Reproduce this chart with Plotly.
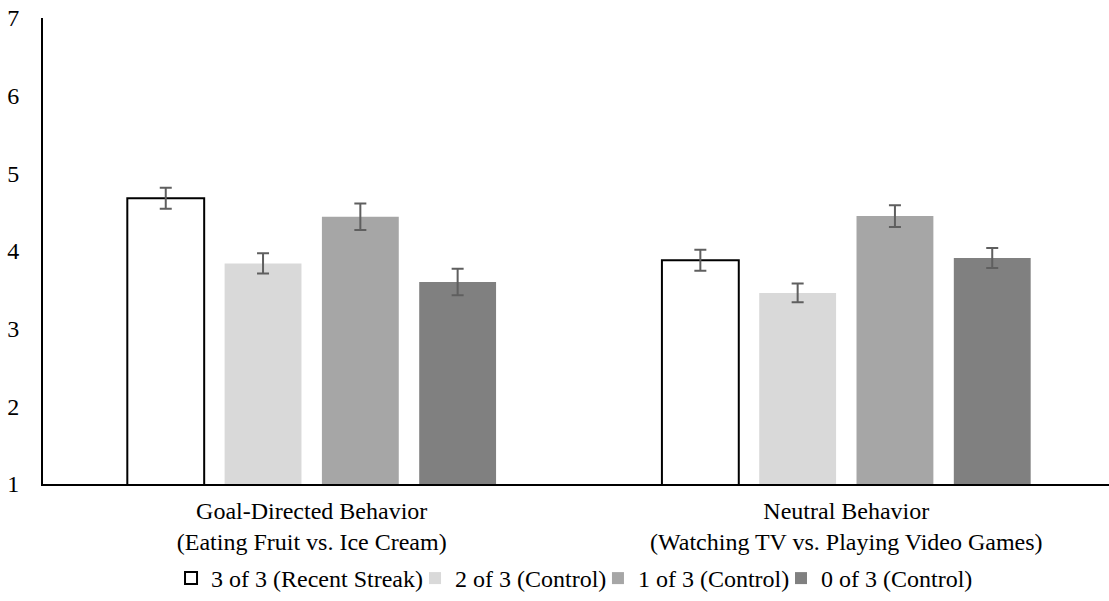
import plotly.graph_objects as go

categories = [
    "Goal-Directed Behavior<br>(Eating Fruit vs. Ice Cream)",
    "Neutral Behavior<br>(Watching TV vs. Playing Video Games)",
]
series_names = [
    "3 of 3 (Recent Streak)",
    "2 of 3 (Control)",
    "1 of 3 (Control)",
    "0 of 3 (Control)",
]
values_3of3 = [4.68, 3.88]
values_2of3 = [3.84, 3.46]
values_1of3 = [4.44, 4.45]
values_0of3 = [3.60, 3.91]
errors_3of3 = [0.135, 0.135]
errors_2of3 = [0.13, 0.12]
errors_1of3 = [0.17, 0.14]
errors_0of3 = [0.17, 0.13]
y_ticks = [1, 2, 3, 4, 5, 6, 7]

fills = ["#FFFFFF", "#D9D9D9", "#A6A6A6", "#808080"]
outlines = ["#000000", "#D9D9D9", "#A6A6A6", "#808080"]
outline_w = [2, 0, 0, 0]
legend_ids = ["legend", "legend2", "legend3", "legend4"]
legend_x = [0.1201, 0.3490, 0.5206, 0.6923]

all_vals = [values_3of3, values_2of3, values_1of3, values_0of3]
all_errs = [errors_3of3, errors_2of3, errors_1of3, errors_0of3]

FONT = "Liberation Serif"

fig = go.Figure()
for name, vals, errs, fc, lc, lw, lid in zip(series_names, all_vals, all_errs,
                                             fills, outlines, outline_w, legend_ids):
    fig.add_trace(go.Bar(
        name=name,
        x=categories,
        y=vals,
        legend=lid,
        marker=dict(color=fc, line=dict(color=lc, width=lw)),
        error_y=dict(type="data", array=errs, visible=True,
                     color="#5f5f5f", thickness=2, width=6),
    ))

legend_common = dict(orientation="h", xanchor="left", y=-0.2035, yanchor="middle",
                     font=dict(family=FONT, size=24, color="#000000"),
                     itemwidth=30, bgcolor="rgba(0,0,0,0)", borderwidth=0)

fig.update_layout(
    width=1109, height=601,
    margin=dict(l=43, r=0, t=18, b=115),
    paper_bgcolor="white", plot_bgcolor="white",
    font=dict(family=FONT, size=24, color="#000000"),
    barmode="group",
    bargap=0.272,
    bargroupgap=0.21,
    showlegend=True,
    legend=dict(x=legend_x[0], **legend_common),
    legend2=dict(x=legend_x[1], **legend_common),
    legend3=dict(x=legend_x[2], **legend_common),
    legend4=dict(x=legend_x[3], **legend_common),
)
fig.update_xaxes(
    type="category",
    range=[-0.5026, 1.4914],
    showline=True, linecolor="#000000", linewidth=2,
    showgrid=False, zeroline=False,
    ticks="outside", ticklen=4, tickcolor="rgba(0,0,0,0)",
    tickfont=dict(family=FONT, size=24, color="#000000"),
)
fig.update_yaxes(
    range=[1, 7], tickvals=y_ticks,
    showline=True, linecolor="#000000", linewidth=2,
    showgrid=False, zeroline=False,
    ticks="outside", ticklen=17, tickcolor="rgba(0,0,0,0)",
    tickfont=dict(family=FONT, size=24, color="#000000"),
)

fig.write_html("out.html")
